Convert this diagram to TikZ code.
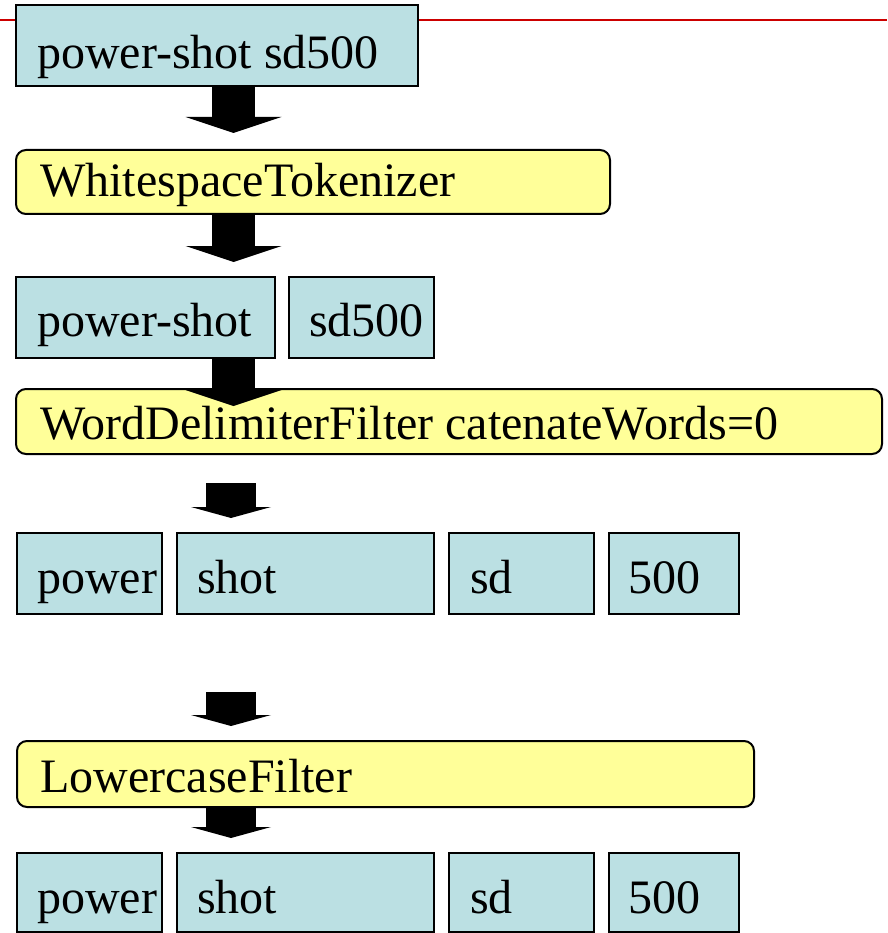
\documentclass[tikz,border=0pt]{standalone}
\usepackage{fontspec}
\setmainfont{Liberation Serif}
\newfontfamily\timesish{Liberation Serif}
\usetikzlibrary{arrows.meta}
\definecolor{tokblue}{RGB}{187,224,227}
\definecolor{filtyellow}{RGB}{255,255,153}
\definecolor{rulered}{RGB}{204,0,0}
\tikzset{
  tokbox/.style={draw=black, fill=tokblue, line width=2pt, rectangle, inner sep=0pt, anchor=north west},
  filtbox/.style={draw=black, fill=filtyellow, line width=2pt, rectangle, rounded corners=10pt, inner sep=0pt, anchor=north west},
  txt/.style={inner sep=0pt, anchor=base west, font=\timesish\fontsize{48}{52}\selectfont},
  bigarrow/.style={line width=43pt, -{Triangle[width=96pt,length=16pt,line width=0pt]}, black},
  smallarrow/.style={line width=50pt, -{Triangle[width=80pt,length=11pt,line width=0pt]}, black}
}
\begin{document}
\begin{tikzpicture}[x=1pt,y=-1pt]
\useasboundingbox (0,0) rectangle (887,933);
% red rule
\coordinate (rl) at (0,20.5);
\coordinate (rr) at (887,20.5);
\draw[rulered, line width=2pt] (rl) -- (rr);
% boxes
\node[tokbox, minimum width=402pt, minimum height=81pt] (b1) at (15,4) {};
\node[txt] (t1) at (37,69) {power-shot sd500};
\node[filtbox, minimum width=594pt, minimum height=64pt] (f1) at (15,149) {};
\node[txt] (tf1) at (40,197) {WhitespaceTokenizer};
\node[tokbox, minimum width=259pt, minimum height=81pt] (r3a) at (15,276) {};
\node[txt] (t3a) at (37,336) {power-shot};
\node[tokbox, minimum width=145pt, minimum height=81pt] (r3b) at (288,276) {};
\node[txt] (t3b) at (309,336) {sd500};
\node[filtbox, minimum width=866pt, minimum height=65pt] (f2) at (15,388) {};
\node[txt] (tf2) at (40,439) {WordDelimiterFilter catenateWords=0};
\node[tokbox, minimum width=145pt, minimum height=81pt] (r5a) at (16,532) {};
\node[txt] (t5a) at (37,593) {power};
\node[tokbox, minimum width=257pt, minimum height=81pt] (r5b) at (176,532) {};
\node[txt] (t5b) at (197,593) {shot};
\node[tokbox, minimum width=145pt, minimum height=81pt] (r5c) at (448,532) {};
\node[txt] (t5c) at (470,593) {sd};
\node[tokbox, minimum width=130pt, minimum height=81pt] (r5d) at (608,532) {};
\node[txt] (t5d) at (628,593) {500};
\node[filtbox, minimum width=737pt, minimum height=66pt] (f3) at (16,740) {};
\node[txt] (tf3) at (40,792) {LowercaseFilter};
\node[tokbox, minimum width=145pt, minimum height=79pt] (r7a) at (16,852) {};
\node[txt] (t7a) at (37,913) {power};
\node[tokbox, minimum width=257pt, minimum height=79pt] (r7b) at (176,852) {};
\node[txt] (t7b) at (197,913) {shot};
\node[tokbox, minimum width=145pt, minimum height=79pt] (r7c) at (448,852) {};
\node[txt] (t7c) at (470,913) {sd};
\node[tokbox, minimum width=130pt, minimum height=79pt] (r7d) at (608,852) {};
\node[txt] (t7d) at (628,913) {500};
% arrows
\coordinate (a1s) at (233.5,85);  \coordinate (a1e) at (233.5,133);
\coordinate (a2s) at (233.5,213); \coordinate (a2e) at (233.5,262);
\coordinate (a3s) at (233.5,357); \coordinate (a3e) at (233.5,406);
\coordinate (a4s) at (231,483);   \coordinate (a4e) at (231,518);
\coordinate (a5s) at (231,692);   \coordinate (a5e) at (231,726);
\coordinate (a6s) at (231,806);   \coordinate (a6e) at (231,838);
\draw[bigarrow] (a1s) -- (a1e);
\draw[bigarrow] (a2s) -- (a2e);
\draw[bigarrow] (a3s) -- (a3e);
\draw[smallarrow] (a4s) -- (a4e);
\draw[smallarrow] (a5s) -- (a5e);
\draw[smallarrow] (a6s) -- (a6e);
\end{tikzpicture}
\end{document}
